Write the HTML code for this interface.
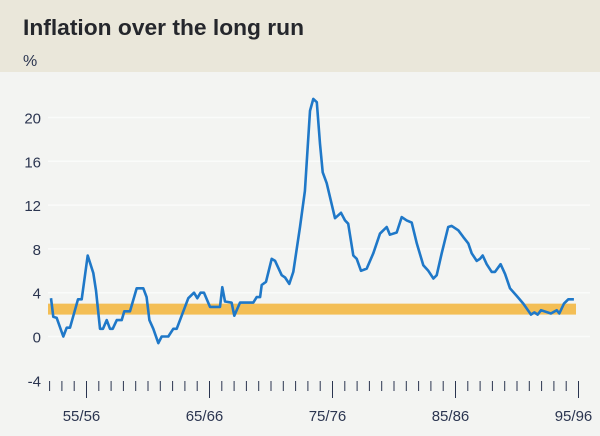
<!DOCTYPE html>
<html><head><meta charset="utf-8"><style>
body{margin:0;width:600px;height:436px;overflow:hidden;background:#f3f4f2}
svg{display:block}
text{font-family:"Liberation Sans",sans-serif;fill:#2b3550}
</style></head><body>
<svg id="chart" width="600" height="436">
<rect x="0" y="0" width="600" height="72" fill="#eae7da"/>
<rect x="0" y="72" width="600" height="364" fill="#f3f4f2"/>
<text x="23" y="35" font-size="22" font-weight="bold" textLength="281" lengthAdjust="spacingAndGlyphs" style="fill:#25272c">Inflation over the long run</text>
<text x="23" y="66" font-size="16">%</text>
<g id="grid"></g><g id="band"></g><g id="yticks"></g><g id="xticks"></g><g id="series"></g>
</svg>
<script>
const yTicks=[-4,0,4,8,12,16,20];
const xLabels=["55/56","65/66","75/76","85/86","95/96"];
const xLabelYears=[1956,1966,1976,1986,1996];
const bandRange=[2,3];
const times=[1953.11,1953.30,1953.58,1954.11,1954.39,1954.66,1955.31,1955.61,1956.10,1956.55,1956.77,1957.10,1957.34,1957.64,1957.91,1958.13,1958.46,1958.86,1959.07,1959.54,1960.08,1960.62,1960.89,1961.11,1961.43,1961.84,1962.11,1962.65,1963.06,1963.33,1964.28,1964.74,1965.01,1965.28,1965.55,1966.04,1966.85,1967.04,1967.26,1967.80,1968.02,1968.48,1969.56,1969.84,1970.11,1970.24,1970.59,1971.06,1971.33,1971.87,1972.14,1972.49,1972.81,1973.36,1973.76,1974.17,1974.44,1974.72,1974.98,1975.20,1975.53,1976.20,1976.69,1977.02,1977.28,1977.69,1977.97,1978.32,1978.78,1979.32,1979.86,1980.41,1980.67,1981.22,1981.63,1982.03,1982.44,1982.85,1983.38,1983.79,1984.20,1984.47,1984.88,1985.41,1985.69,1986.23,1986.63,1987.04,1987.32,1987.72,1987.99,1988.21,1988.54,1988.94,1989.21,1989.67,1990.03,1990.43,1990.98,1991.51,1992.14,1992.41,1992.68,1992.95,1993.76,1994.23,1994.44,1994.82,1995.17,1995.39,1995.63];
const values=[3.5,1.8,1.7,0,0.8,0.8,3.4,3.4,7.4,5.8,4.2,0.7,0.7,1.5,0.7,0.7,1.5,1.5,2.3,2.3,4.4,4.4,3.6,1.5,0.7,-0.6,0,0,0.7,0.7,3.5,4.0,3.5,4.0,4.0,2.7,2.7,4.5,3.2,3.1,1.9,3.1,3.1,3.6,3.6,4.7,5.0,7.1,6.9,5.6,5.4,4.8,5.9,10.0,13.3,20.6,21.7,21.4,17.6,15.0,14.0,10.8,11.3,10.6,10.3,7.4,7.1,6.0,6.2,7.6,9.4,10.0,9.3,9.5,10.9,10.6,10.4,8.5,6.5,6.0,5.3,5.6,7.6,10.0,10.1,9.7,9.1,8.5,7.6,6.9,7.1,7.4,6.6,5.9,5.9,6.6,5.7,4.4,3.7,3.0,2.0,2.2,2.0,2.4,2.1,2.4,2.1,3.0,3.4,3.4,3.4];
const NS="http://www.w3.org/2000/svg";
const xs=t=>86.5+(t-1956)*12.3;
const ys=v=>336.5-v*10.95;
function mk(tag,attrs,parent){const e=document.createElementNS(NS,tag);for(const k in attrs)e.setAttribute(k,attrs[k]);document.getElementById(parent).appendChild(e);return e;}
yTicks.forEach(v=>{
  if(v>-4){const g=mk('line',{x1:48,x2:590,y1:ys(v),y2:ys(v),stroke:'#fafbfa','stroke-width':1.5},'grid');
  
  }
  const t=mk('text',{x:41,y:ys(v)+6,'font-size':15,'text-anchor':'end'},'yticks');
  t.textContent=v;
  
  
});
const b=mk('rect',{x:48,width:528,y:ys(bandRange[1]),height:ys(bandRange[0])-ys(bandRange[1]),fill:'#f3be55'},'band');


for(let yr=1953;yr<=1996;yr++){
  const major=xLabelYears.includes(yr);
  const l=mk('line',{x1:xs(yr),x2:xs(yr),y1:381,y2:major?398:391,stroke:'#2b3550','stroke-width':1},'xticks');
  
  
}
xLabels.forEach((s,i)=>{
  const t=mk('text',{x:xs(xLabelYears[i])-5,y:421,'font-size':15,'text-anchor':'middle'},'xticks');
  t.textContent=s;
  
  
});
const d=times.map((t,i)=>(i?'L':'M')+xs(t).toFixed(1)+','+ys(values[i]).toFixed(1)).join(' ');
const p=mk('path',{d:d,fill:'none',stroke:'#1f78c8','stroke-width':2.6,'stroke-linejoin':'round'},'series');


</script>
</body></html>
